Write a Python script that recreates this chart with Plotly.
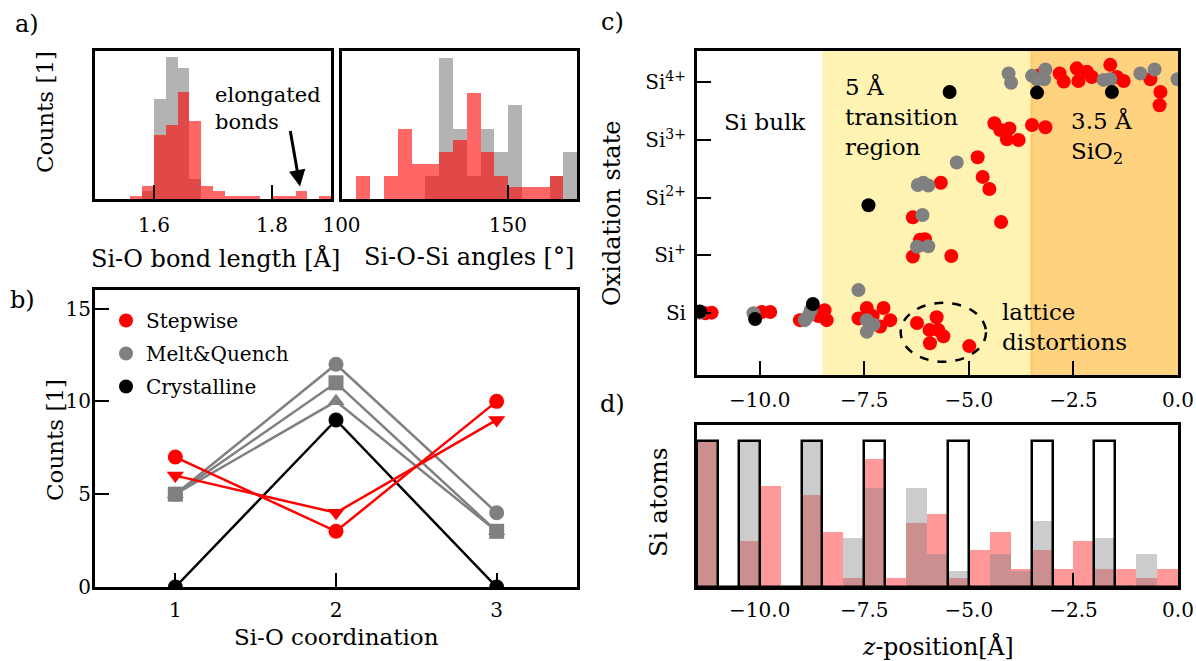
import plotly.graph_objects as go

W, H = 1196, 661
FONT = "DejaVu Serif"

# ---------------- data ----------------
# a) Si-O bond length histogram (bins of 0.02 starting at 1.56)
bond_bin_start = 1.56
bond_bin_width = 0.02
bond_stepwise = [0.8, 3.1, 15.9, 18.2, 26.5, 19.4, 3.1, 2.1, 0.8, 0.8, 0.8, 0, 0.8, 0.8, 2.1, 0, 0.8]
bond_meltquench = [0, 2.1, 24.8, 35.0, 32.4, 5.0, 0, 0, 0, 0, 0, 0, 0, 0, 0, 0, 0]

# a) Si-O-Si angle histogram
angle_bin_start = 104.3
angle_bin_width = 4.15
angle_stepwise = [2, 0, 2, 6, 3, 3, 4, 5, 9, 4, 2, 1, 1, 1, 2, 0]
angle_meltquench = [0, 0, 0, 0, 0, 2, 12, 6, 2, 6, 4, 8, 0, 0, 2, 4]

# b) Si-O coordination
coordination = [1, 2, 3]
step_circle = [7, 3, 10]
step_tri = [6, 4, 9]
mq_circle = [5, 12, 4]
mq_square = [5, 11, 3]
mq_tri = [5, 10, 3]
cryst_coord = [0, 9, 0]

# c) oxidation state vs z-position
step_z = [-3.31, -2.83, -2.73, -2.42, -2.38, -2.18, -2.06, -1.62, -1.46, -1.30, -0.66, -0.42, -0.44,
          -4.39, -4.25, -4.03, -4.09, -3.81, -3.49, -3.17,
          -4.79, -4.67, -4.51, -5.67, -6.34, -4.23,
          -6.17, -6.05, -6.17, -6.34, -5.42,
          -11.30, -11.15, -9.95, -9.75, -8.60, -8.45, -9.04, -8.40, -7.44, -7.04, -7.64, -6.88, -7.12, -7.30,
          -6.24, -5.77, -5.94, -5.61, -5.93, -5.73, -4.99]
step_ox = [4.12, 4.15, 4.01, 4.24, 4.02, 4.18, 4.09, 4.30, 4.09, 4.02, 4.05, 3.83, 3.60,
           3.29, 3.17, 3.20, 3.01, 3.00, 3.26, 3.22,
           2.70, 2.36, 2.15, 2.26, 1.66, 1.58,
           1.27, 1.28, 1.18, 0.98, 0.99,
           0.00, 0.01, 0.02, 0.02, -0.05, 0.05, -0.12, -0.12, 0.09, 0.09, -0.09, -0.12, -0.23, -0.05,
           -0.17, -0.07, -0.29, -0.40, -0.52, -0.29, -0.57]
mq_z = [-4.05, -3.99, -3.49, -3.37, -3.20, -3.17, -1.78, -1.62, -0.90, -0.56, -0.01,
        -5.29, -6.22, -6.09, -5.97, -6.11,
        -6.24, -5.97, -7.64,
        -11.43, -10.15, -8.92, -8.84, -8.78, -7.44, -7.44, -7.28]
mq_ox = [4.15, 3.99, 4.11, 4.05, 4.05, 4.22, 4.04, 4.05, 4.15, 4.22, 4.05,
         2.61, 2.22, 2.26, 2.21, 1.70,
         1.15, 1.16, 0.40,
         0.01, 0.00, -0.12, -0.05, 0.05, -0.12, -0.32, -0.20]
cr_z = [-11.43, -10.11, -8.73, -7.40, -5.46, -3.37, -1.58]
cr_ox = [0.03, -0.10, 0.16, 1.87, 3.83, 3.82, 3.83]
ox_tickvals = [0, 1, 2, 3, 4]
ox_ticktext = ["Si", "Si<sup>+</sup>", "Si<sup>2+</sup>", "Si<sup>3+</sup>", "Si<sup>4+</sup>"]

# d) Si atoms per z-bin (bins of 0.5 starting at -11.5)
z_bin_start = -11.5
z_bin_width = 0.5
zhist_stepwise = [16, 0, 5, 11, 0, 10, 6, 1, 14, 1, 7, 8, 1, 4, 6, 2, 4, 2, 5, 2, 2, 1, 2]
zhist_meltquench = [16, 0, 16, 0, 0, 16, 0, 5.4, 10.8, 0, 10.8, 3.6, 1.8, 0, 3.6, 1.8, 7.2, 0, 0, 5.4, 0, 3.6, 0]
zhist_crystalline = [16, 0, 16, 0, 0, 16, 0, 0, 16, 0, 0, 0, 16, 0, 0, 0, 16, 0, 0, 16, 0, 0, 0]

z_tickvals = [-10.0, -7.5, -5.0, -2.5, 0.0]
z_ticktext = ["\u221210.0", "\u22127.5", "\u22125.0", "\u22122.5", "0.0"]

RED = "#ff0000"
GRAY = "#808080"


def centers(start, width, n):
    return [start + (i + 0.5) * width for i in range(n)]


def px_x(x):
    return x / W


def px_y(y):
    return 1 - y / H


fig = go.Figure()

# ---- panel a left ----
bx = centers(bond_bin_start, bond_bin_width, len(bond_stepwise))
fig.add_trace(go.Bar(x=bx, y=bond_meltquench, width=bond_bin_width, marker=dict(color="rgba(128,128,128,0.6)", line=dict(width=0)),
                     xaxis="x", yaxis="y", showlegend=False))
fig.add_trace(go.Bar(x=bx, y=bond_stepwise, width=bond_bin_width, marker=dict(color="rgba(255,0,0,0.6)", line=dict(width=0)),
                     xaxis="x", yaxis="y", showlegend=False))

# ---- panel a right ----
ax_ = centers(angle_bin_start, angle_bin_width, len(angle_stepwise))
fig.add_trace(go.Bar(x=ax_, y=angle_meltquench, width=angle_bin_width, marker=dict(color="rgba(128,128,128,0.6)", line=dict(width=0)),
                     xaxis="x2", yaxis="y2", showlegend=False))
fig.add_trace(go.Bar(x=ax_, y=angle_stepwise, width=angle_bin_width, marker=dict(color="rgba(255,0,0,0.6)", line=dict(width=0)),
                     xaxis="x2", yaxis="y2", showlegend=False))

# ---- panel b ----
LW = 2.5
MS = 15
for yv, sym in [(mq_circle, "circle"), (mq_square, "square"), (mq_tri, "triangle-up")]:
    fig.add_trace(go.Scatter(x=coordination, y=yv, mode="lines+markers", line=dict(color=GRAY, width=LW),
                             marker=dict(symbol=sym, size=MS, color=GRAY), xaxis="x3", yaxis="y3", showlegend=False))
fig.add_trace(go.Scatter(x=coordination, y=cryst_coord, mode="lines+markers", line=dict(color="black", width=LW),
                         marker=dict(symbol="circle", size=MS, color="black"), xaxis="x3", yaxis="y3", showlegend=False))
for yv, sym in [(step_circle, "circle"), (step_tri, "triangle-down")]:
    fig.add_trace(go.Scatter(x=coordination, y=yv, mode="lines+markers", line=dict(color=RED, width=LW),
                             marker=dict(symbol=sym, size=MS, color=RED), xaxis="x3", yaxis="y3", showlegend=False))
# legend entries
for name, col in [("Stepwise", RED), ("Melt&Quench", GRAY), ("Crystalline", "black")]:
    fig.add_trace(go.Scatter(x=[None], y=[None], mode="markers", name=name, legendgroup=name,
                             marker=dict(symbol="circle", size=14, color=col), xaxis="x3", yaxis="y3"))

# ---- panel c ----
CMS = 14
fig.add_trace(go.Scatter(x=step_z, y=step_ox, mode="markers", marker=dict(size=CMS, color=RED),
                         xaxis="x4", yaxis="y4", showlegend=False))
fig.add_trace(go.Scatter(x=mq_z, y=mq_ox, mode="markers", marker=dict(size=CMS, color=GRAY),
                         xaxis="x4", yaxis="y4", showlegend=False))
fig.add_trace(go.Scatter(x=cr_z, y=cr_ox, mode="markers", marker=dict(size=CMS, color="black"),
                         xaxis="x4", yaxis="y4", showlegend=False))

# ---- panel d ----
zx = centers(z_bin_start, z_bin_width, len(zhist_stepwise))
fig.add_trace(go.Bar(x=zx, y=zhist_stepwise, width=z_bin_width, marker=dict(color="rgba(255,0,0,0.4)", line=dict(width=0)),
                     xaxis="x5", yaxis="y5", showlegend=False))
fig.add_trace(go.Bar(x=zx, y=zhist_meltquench, width=z_bin_width, marker=dict(color="rgba(128,128,128,0.4)", line=dict(width=0)),
                     xaxis="x5", yaxis="y5", showlegend=False))
fig.add_trace(go.Bar(x=zx, y=zhist_crystalline, width=z_bin_width,
                     marker=dict(color="rgba(0,0,0,0)", line=dict(width=2.5, color="black")),
                     xaxis="x5", yaxis="y5", showlegend=False))

# ---------------- axes ----------------
tickfont = dict(family=FONT, size=20, color="black")
base = dict(showline=True, linecolor="black", linewidth=3, mirror=True, showgrid=False, zeroline=False,
            ticks="inside", ticklen=14, tickwidth=2, tickcolor="black", tickfont=tickfont, automargin=False)
noticks = dict(showline=True, linecolor="black", linewidth=3, mirror=True, showgrid=False, zeroline=False,
               ticks="", showticklabels=False, automargin=False)

ya = [px_y(199), px_y(51)]
fig.update_layout(
    xaxis=dict(base, domain=[px_x(95), px_x(331)], range=[1.5, 1.9], tickvals=[1.6, 1.8], ticktext=["1.6", "1.8"],
               anchor="y", ticklabelstandoff=6),
    yaxis=dict(noticks, domain=ya, range=[0, 36.6], anchor="x"),
    xaxis2=dict(base, domain=[px_x(341.5), px_x(577)], range=[100, 170.8], tickvals=[100, 150], ticktext=["100", "150"],
                anchor="y2", ticklabelstandoff=6),
    yaxis2=dict(noticks, domain=ya, range=[0, 12.6], anchor="x2"),
    xaxis3=dict(base, domain=[px_x(95), px_x(577)], range=[0.5, 3.5], tickvals=[1, 2, 3], ticktext=["1", "2", "3"],
                anchor="y3", ticklabelstandoff=3),
    yaxis3=dict(base, domain=[px_y(587), px_y(290)], range=[0, 16], tickvals=[0, 5, 10, 15], ticktext=["0", "5", "10", "15"],
                anchor="x3", ticklabelstandoff=-3),
    xaxis4=dict(base, domain=[px_x(697), px_x(1178)], range=[-11.5, 0], tickvals=z_tickvals, ticktext=z_ticktext,
                anchor="y4", ticklabelstandoff=5),
    yaxis4=dict(base, domain=[px_y(375), px_y(51)], range=[-1.07, 4.54], tickvals=ox_tickvals, ticktext=ox_ticktext,
                anchor="x4", ticklabelstandoff=4),
    xaxis5=dict(base, domain=[px_x(697), px_x(1178)], range=[-11.5, 0], tickvals=z_tickvals, ticktext=z_ticktext,
                anchor="y5", ticklabelstandoff=3),
    yaxis5=dict(noticks, domain=[px_y(587), px_y(425)], range=[0, 17.7], anchor="x5"),
)

fig.update_layout(
    width=W, height=H, autosize=False,
    margin=dict(l=0, r=0, t=0, b=0, autoexpand=False),
    paper_bgcolor="white", plot_bgcolor="white",
    barmode="overlay", bargap=0,
    font=dict(family=FONT, size=20, color="black"),
    legend=dict(x=px_x(106), y=px_y(301), xanchor="left", yanchor="top", bgcolor="rgba(0,0,0,0)",
                font=dict(family=FONT, size=20, color="black"), tracegroupgap=4, itemclick=False),
)

# shaded regions and ellipse in panel c
fig.add_shape(type="rect", xref="x4", yref="y4 domain", x0=-8.5, x1=-3.5, y0=0, y1=1,
              fillcolor="#fff3b3", line=dict(width=0), layer="below")
fig.add_shape(type="rect", xref="x4", yref="y4 domain", x0=-3.5, x1=0, y0=0, y1=1,
              fillcolor="#ffd280", line=dict(width=0), layer="below")
fig.add_shape(type="line", xref="x4", yref="y4 domain", x0=-3.5, x1=-3.5, y0=0, y1=1,
              line=dict(color="#ffc860", width=2), layer="below")
fig.add_shape(type="circle", xref="x4", yref="y4", x0=-6.63, x1=-4.59, y0=-0.84, y1=0.18,
              line=dict(color="black", width=2.5, dash="dash"))

# ---------------- text ----------------
def ann(text, x, y, size=22, xanchor="center", yanchor="middle", angle=0, align="center", **kw):
    fig.add_annotation(text=text, x=x, y=y, xref=kw.pop("xref", "paper"), yref=kw.pop("yref", "paper"),
                       showarrow=False, xanchor=xanchor, yanchor=yanchor, textangle=angle, align=align,
                       font=dict(family=FONT, size=size, color="black"), **kw)

# panel labels
ann("a)", px_x(27), px_y(24), size=24)
ann("b)", px_x(22), px_y(300), size=24)
ann("c)", px_x(612), px_y(22), size=24)
ann("d)", px_x(612), px_y(404), size=24)

# axis titles
ann("Counts [1]", px_x(45), px_y(112), size=23, angle=-90)
ann("Si-O bond length [Å]", px_x(215), px_y(258), size=24)
ann("Si-O-Si angles [°]", px_x(469), px_y(257), size=24)
ann("Counts [1]", px_x(55), px_y(440), size=23, angle=-90)
ann("Si-O coordination", px_x(336), px_y(637), size=23)
ann("Oxidation state", px_x(612), px_y(213), size=24, angle=-90)
ann("Si atoms", px_x(658), px_y(502), size=25, angle=-90)
ann("<i>z</i>-position[Å]", px_x(938), px_y(646), size=23.5)

# panel a annotation with arrow
ann("elongated<br>bonds", 1.70, 22.5, size=21, xanchor="left", align="left", xref="x", yref="y")
fig.add_annotation(x=1.8475, y=3.1, xref="x", yref="y", ax=-10, ay=-57, axref="pixel", ayref="pixel",
                   text="", showarrow=True, arrowhead=2, arrowsize=1.1, arrowwidth=3, arrowcolor="black")

# panel c texts
ann("Si bulk", -9.87, 3.31, size=23, xref="x4", yref="y4")
ann("5 Å<br>transition<br>region", -8.0, 3.40, size=23, xanchor="left", align="left", xref="x4", yref="y4")
ann("3.5 Å<br>SiO<sub>2</sub>", -2.60, 3.05, size=23, xanchor="left", align="left", xref="x4", yref="y4")
ann("lattice<br>distortions", -4.25, -0.24, size=23, xanchor="left", align="left", xref="x4", yref="y4")

fig.write_html("out.html", post_script="document.body.style.margin='0';",
               config={"displayModeBar": False})
